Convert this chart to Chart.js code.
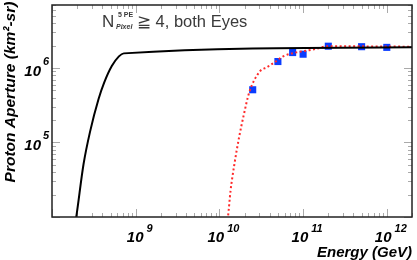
<!DOCTYPE html>
<html lang="en">
<head>
  <meta charset="UTF-8">
  <title>Proton Aperture</title>
  <script src="https://cdn.jsdelivr.net/npm/chart.js"></script>
  <style>
    body { margin: 0; background: #fff; }
  </style>
</head>
<body>
<div style="width:417px; height:260px;">
  <canvas id="apChart" width="417" height="260"></canvas>
</div>

<script>
  // simulated aperture curve (black)
  const simEnergy = [1.85e8, 1.95e8, 2.38e8, 2.85e8, 3.6e8, 4.2e8, 5.18e8, 6.3e8, 7.2e8, 2e12];
  const simAperture = [7e3, 1e4, 5.1e4, 1.4e5, 3.83e5, 6.35e5, 1.06e6, 1.43e6, 1.57e6, 1.89e6];

  // fitted curve (red dotted)
  const fitEnergy = [1.2e10, 1.265e10, 1.36e10, 1.51e10, 1.71e10, 1.95e10, 2.27e10, 3.06e10, 3.67e10, 4.4e10, 5.77e10, 8.3e10, 1.18e11, 1.49e11, 1.95e11, 5e11, 2e12];
  const fitAperture = [7e3, 1e4, 2.27e4, 5.1e4, 1.14e5, 2.31e5, 4.69e5, 9.06e5, 1.02e6, 1.16e6, 1.43e6, 1.62e6, 1.73e6, 1.83e6, 1.96e6, 1.95e6, 1.93e6];

  // measured points (blue squares)
  const measEnergy = [2.5e10, 5e10, 7.5e10, 1e11, 2e11, 5e11, 1e12];
  const measAperture = [5.1e5, 1.22e6, 1.61e6, 1.53e6, 1.96e6, 1.93e6, 1.89e6];

  const xDecades = [9, 10, 11, 12];
  const yDecades = [5, 6];

  const toPts = (xs, ys) => xs.map((x, i) => ({ x: x, y: ys[i] }));

  const boldIt = size => 'italic bold ' + size + 'px "Liberation Sans", Arial, sans-serif';

  // frame, ticks, labels (ROOT style)
  const rootFrame = {
    id: 'rootFrame',
    beforeDatasetsDraw(chart) {
      const { ctx, chartArea: a, scales: { x, y } } = chart;
      ctx.save();
      ctx.strokeStyle = '#aaa';
      ctx.lineWidth = 1;
      // x ticks bottom + top
      for (let d = 8; d <= 12; d++) {
        for (let m = 1; m <= 9; m++) {
          const v = m * Math.pow(10, d);
          if (v < x.min || v > x.max) continue;
          const px = Math.round(x.getPixelForValue(v)) + 0.5;
          const len = m === 1 ? 8 : 4;
          ctx.beginPath();
          ctx.moveTo(px, a.bottom); ctx.lineTo(px, a.bottom - len);
          ctx.moveTo(px, a.top); ctx.lineTo(px, a.top + len);
          ctx.stroke();
        }
      }
      // y ticks left + right
      for (let d = 4; d <= 6; d++) {
        for (let m = 1; m <= 9; m++) {
          const v = m * Math.pow(10, d);
          if (v < y.min || v > y.max) continue;
          const py = Math.round(y.getPixelForValue(v)) + 0.5;
          const len = m === 1 ? 8 : 4;
          ctx.beginPath();
          ctx.moveTo(a.left, py); ctx.lineTo(a.left + len, py);
          ctx.moveTo(a.right, py); ctx.lineTo(a.right - len, py);
          ctx.stroke();
        }
      }
      ctx.restore();
    },
    afterDraw(chart) {
      const { ctx, chartArea: a, scales: { x, y } } = chart;
      ctx.save();
      ctx.strokeStyle = '#222';
      ctx.lineWidth = 1.5;
      ctx.strokeRect(a.left, a.top, a.right - a.left, a.bottom - a.top);

      ctx.fillStyle = '#000';
      ctx.textBaseline = 'alphabetic';
      // x tick labels
      xDecades.forEach(d => {
        const px = x.getPixelForValue(Math.pow(10, d));
        ctx.font = boldIt(15);
        const wb = ctx.measureText('10').width;
        ctx.font = boldIt(11);
        const we = ctx.measureText(String(d)).width;
        const start = px + 4 - (wb + 3 + we) / 2;
        ctx.textAlign = 'left';
        ctx.font = boldIt(15);
        ctx.fillText('10', start, 242);
        ctx.font = boldIt(11);
        ctx.fillText(String(d), start + wb + 3, 232);
      });
      // y tick labels
      yDecades.forEach(d => {
        const py = y.getPixelForValue(Math.pow(10, d));
        ctx.textAlign = 'right';
        ctx.font = boldIt(11);
        ctx.fillText(String(d), 49, py - 3);
        ctx.font = boldIt(15);
        ctx.fillText('10', 41, py + 8);
      });
      // axis titles
      ctx.font = boldIt(15);
      ctx.textAlign = 'right';
      ctx.fillText('Energy (GeV)', 412, 257);
      ctx.save();
      ctx.translate(15, 92);
      ctx.rotate(-Math.PI / 2);
      ctx.textAlign = 'center';
      ctx.font = boldIt(15.5);
      ctx.fillText('Proton Aperture (km\u00B2-sr)', 0, 0);
      ctx.restore();

      // annotation
      ctx.fillStyle = '#3a3a3a';
      ctx.textAlign = 'left';
      ctx.font = '17px "Liberation Sans", Arial, sans-serif';
      ctx.fillText('N', 102, 27);
      ctx.font = 'bold 7px "Liberation Sans", Arial, sans-serif';
      ctx.fillText('5 PE', 118, 17);
      ctx.font = 'italic bold 7px "Liberation Sans", Arial, sans-serif';
      ctx.fillText('Pixel', 116, 29);
      ctx.font = '16.5px "Liberation Sans", Arial, sans-serif';
      ctx.fillText('\u2267 4, both Eyes', 137, 27);
      ctx.restore();
    }
  };

  const ctx = document.getElementById('apChart').getContext('2d');
  const apChart = new Chart(ctx, {
    type: 'line',
    data: {
      datasets: [
        {
          label: 'simulation',
          data: toPts(simEnergy, simAperture),
          borderColor: '#000',
          borderWidth: 2,
          pointRadius: 0,
          cubicInterpolationMode: 'monotone'
        },
        {
          label: 'fit',
          data: toPts(fitEnergy, fitAperture),
          borderColor: '#ff2a2a',
          borderWidth: 2,
          borderDash: [2, 2.5],
          pointRadius: 0,
          cubicInterpolationMode: 'monotone'
        },
        {
          label: 'data',
          data: toPts(measEnergy, measAperture),
          showLine: false,
          pointStyle: 'rect',
          pointRadius: 5,
          backgroundColor: '#0a3cff',
          borderColor: '#0a3cff',
          borderWidth: 0
        }
      ]
    },
    options: {
      responsive: false,
      animation: false,
      layout: { padding: { left: 52, right: 1, top: 1, bottom: 43 } },
      plugins: { legend: { display: false }, tooltip: { enabled: false } },
      scales: {
        x: { type: 'logarithmic', min: 1e8, max: 2e12, display: false },
        y: { type: 'logarithmic', min: 1e4, max: 7e6, display: false }
      }
    },
    plugins: [rootFrame]
  });
</script>
</body>
</html>
